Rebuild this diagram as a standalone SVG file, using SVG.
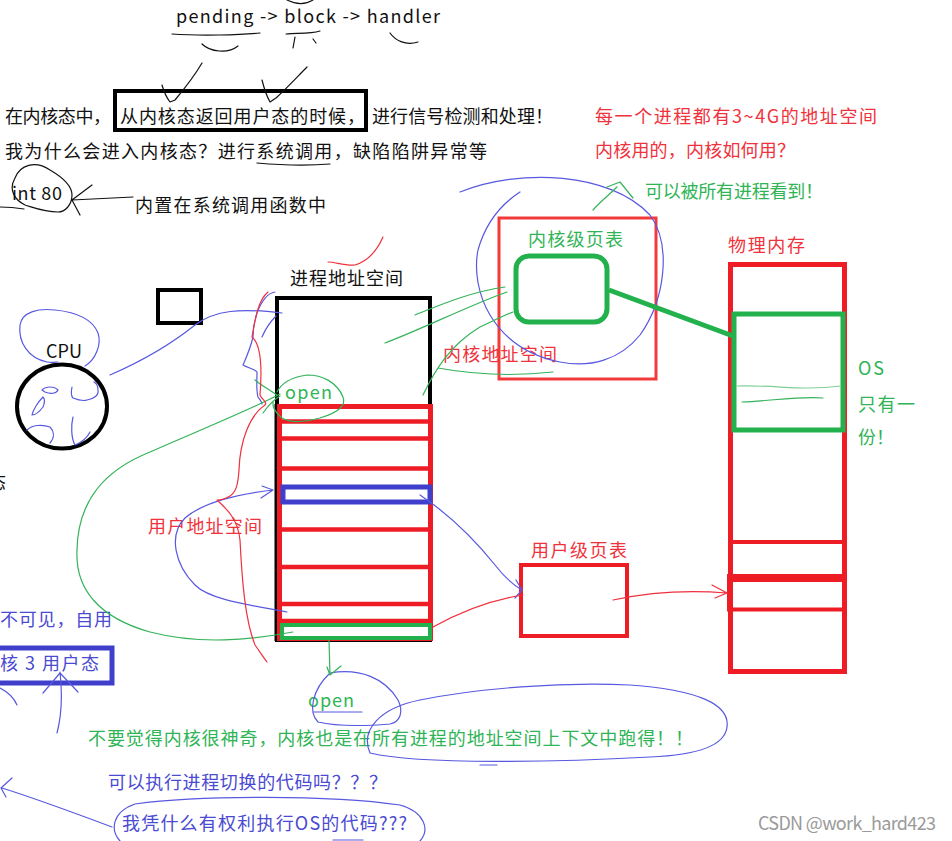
<svg xmlns="http://www.w3.org/2000/svg" width="952" height="841" viewBox="0 0 952 841">
<style>
text{font-family:"Noto Sans CJK SC","Noto Sans",sans-serif;font-size:18px}
.k{fill:#111}
.r{fill:#f0323c}
.g{fill:#2fb456}
.b{fill:#4a4ad2}
.sk{fill:none;stroke-width:1.2;stroke-linecap:round;stroke-linejoin:round}
.sb{stroke:#5858e0}
.sg{stroke:#34b35a}
.sr{stroke:#f0303c}
.sx{stroke:#111}
.tk{fill:none;stroke:#000;stroke-width:4}
.tr{fill:none;stroke:#ee1c25;stroke-width:5}
.tg{fill:none;stroke:#22b14c;stroke-width:5}
.tb{fill:none;stroke:#3f3fcc;stroke-width:5}
</style>
<rect width="952" height="841" fill="#fff"/>

<g id="notes-top">
<text class="k" x="176" y="23" font-size="19" textLength="264" lengthAdjust="spacing">pending -&gt; block -&gt; handler</text>
<text class="k" x="5" y="123" textLength="106" lengthAdjust="spacing">在内核态中，</text>
<text class="k" x="372" y="123" textLength="181" lengthAdjust="spacing">进行信号检测和处理！</text>
<text class="k" x="5" y="158" textLength="482" lengthAdjust="spacing">我为什么会进入内核态？进行系统调用，缺陷陷阱异常等</text>
<text class="k" x="135" y="212" textLength="191" lengthAdjust="spacing">内置在系统调用函数中</text>
<text class="r" x="595" y="123" textLength="282" lengthAdjust="spacing">每一个进程都有3~4G的地址空间</text>
<text class="r" x="595" y="157" textLength="200" lengthAdjust="spacing">内核用的，内核如何用？</text>
<text class="g" x="645" y="198" textLength="178" lengthAdjust="spacing">可以被所有进程看到！</text>
<text class="k" x="-12" y="489">态</text>
</g>

<g id="return-box">
<rect class="tk" x="115" y="91" width="251" height="39"/>
<text class="k" x="120" y="123" textLength="245" lengthAdjust="spacing">从内核态返回用户态的时候，</text>
</g>

<g id="int80">
<text class="k" x="12" y="200" textLength="50" lengthAdjust="spacing">int 80</text>
</g>

<g id="small-box"><rect class="tk" x="158" y="290" width="43" height="33"/></g>

<g id="cpu">
<ellipse class="tk" cx="62" cy="406.5" rx="45" ry="42"/>
<text class="k" x="46" y="358" textLength="36" lengthAdjust="spacing">CPU</text>
<path class="sk sb" d="M42,390 C46,386 54,386 58,390 C56,394 50,394 45,392 Z M43,397 C38,402 33,410 32,415 C36,415 40,411 43,407 C45,402 45,399 43,397 M72,387 C71,392 71,396 73,398 C78,400 84,401 87,400 C94,399 99,395 98,390 C98,386 96,383 94,382 M27,430 C32,425 42,424 50,427 C54,431 55,437 50,443 M73,417 C71,425 71,438 75,445 C80,443 86,440 90,432"/>
</g>

<g id="process-space">
<text class="k" x="290" y="285" textLength="113" lengthAdjust="spacing">进程地址空间</text>
<rect class="tk" x="277" y="298" width="153" height="342"/>
<rect class="tr" x="279.5" y="406.5" width="151" height="232"/>
<g stroke="#ee1c25" stroke-width="4.5">
<line x1="279" y1="421.5" x2="431" y2="421.5"/>
<line x1="279" y1="438.5" x2="431" y2="438.5"/>
<line x1="279" y1="468.5" x2="431" y2="468.5"/>
<line x1="279" y1="529.5" x2="431" y2="529.5"/>
<line x1="279" y1="567" x2="431" y2="567"/>
<line x1="279" y1="604" x2="431" y2="604"/>
<line x1="279" y1="621" x2="431" y2="621"/>
</g>
<line x1="275.5" y1="404" x2="275.5" y2="641" stroke="#000" stroke-width="2"/>
<rect class="tb" x="283" y="487" width="147" height="15"/>
<rect fill="none" stroke="#22b14c" stroke-width="4" x="282" y="625" width="148" height="13"/>
<text class="g" x="285" y="399" textLength="47" lengthAdjust="spacing">open</text>
<text class="r" x="148" y="533" textLength="114" lengthAdjust="spacing">用户地址空间</text>
</g>

<g id="kernel-page-table">
<rect fill="none" stroke="#f33a3a" stroke-width="3" x="499" y="218" width="157" height="161"/>
<text class="g" x="528" y="246" textLength="95" lengthAdjust="spacing">内核级页表</text>
<rect class="tg" x="516" y="256" width="91" height="66" rx="13"/>
<text class="r" x="443" y="361" textLength="114" lengthAdjust="spacing">内核地址空间</text>
</g>

<g id="physical-memory">
<text class="r" x="728" y="252" textLength="77" lengthAdjust="spacing">物理内存</text>
<rect class="tr" x="730.5" y="264.5" width="114" height="407"/>
<line x1="730" y1="542" x2="845" y2="542" stroke="#ee1c25" stroke-width="4"/>
<rect x="727" y="574" width="118" height="8" fill="#ee1c25"/>
<line x1="727" y1="609.5" x2="845" y2="609.5" stroke="#ee1c25" stroke-width="4"/>
<line x1="729" y1="578" x2="729" y2="611" stroke="#ee1c25" stroke-width="4"/>
<rect class="tg" x="734" y="314" width="109" height="116"/>
<path class="sk" stroke="#7fcf95" d="M737,386 C780,385 800,391 841,386"/>
<path class="sk sg" d="M742,402 C770,401 800,396 823,398"/>
<text class="g" x="858" y="375" textLength="26" lengthAdjust="spacing">OS</text>
<text class="g" x="858" y="411" textLength="57" lengthAdjust="spacing">只有一</text>
<text class="g" x="858" y="444">份！</text>
</g>

<g id="user-page-table">
<text class="r" x="531" y="557" textLength="96" lengthAdjust="spacing">用户级页表</text>
<rect fill="none" stroke="#ee1c25" stroke-width="4" x="521" y="565" width="106" height="71"/>
</g>

<g id="user-mode-box">
<text class="b" x="0" y="626" textLength="112" lengthAdjust="spacing">不可见，自用</text>
<rect class="tb" x="-5" y="648" width="117" height="35"/>
<text class="b" x="0" y="670" textLength="99" lengthAdjust="spacing">核 3 用户态</text>
</g>

<g id="notes-bottom">
<text class="g" x="308" y="707" textLength="46" lengthAdjust="spacing">open</text>
<text class="g" x="88" y="745" textLength="605" lengthAdjust="spacing">不要觉得内核很神奇，内核也是在所有进程的地址空间上下文中跑得！！</text>
<text class="b" x="108" y="789" textLength="279" lengthAdjust="spacing">可以执行进程切换的代码吗？？？</text>
<text class="b" x="122" y="830" textLength="285" lengthAdjust="spacing">我凭什么有权利执行OS的代码???</text>
<text x="758" y="830" font-size="16" fill="#9a9a9a" textLength="178" lengthAdjust="spacing">CSDN @work_hard423</text>
</g>

<g id="connectors">
<path class="sk sx" d="M172,34 C200,36 240,35 260,33 M202,44 C210,52 228,54 238,46 M286,34 C298,33 310,34 320,31 M295,37 L293,48 M313,39 L316,43 M390,33 C395,40 405,46 418,42 M287,0 C295,4 305,5 313,0"/>
<path class="sk sx" d="M162,85 C164,92 166,97 170,102 L175,100 C185,88 195,75 202,63 M262,80 C264,88 266,95 270,102 L276,98 C287,88 298,76 307,67"/>
<path class="sk sx" d="M257,163 C280,165 305,166 330,164"/>
<path class="sk sx" d="M15,178 C20,165 35,160 50,170 C62,177 72,185 72,195 C72,205 65,212 58,212 C45,212 35,208 25,205 C15,200 8,190 15,178 M0,207 C10,207 18,208 24,209 M133,197 C110,198 90,199 72,200 M92,185 L72,200 L80,215"/>
<path class="sk sb" d="M85,366 C95,360 102,345 98,333 C92,318 75,312 55,310 C38,308 22,312 20,325 C18,342 28,358 47,362 C52,363 56,362 58,362"/>
<path class="sk sb" d="M110,375 C140,362 170,345 195,325 C215,310 240,308 282,313"/>
<path class="sk sb" d="M275,292 C268,293 262,300 257,313 C253,325 253,332 253,337 C250,350 245,360 243,365 C248,368 255,369 257,372 C257,380 256,390 258,397 C260,400 262,402 262,404 M276,316 C270,322 265,330 262,337"/>
<path class="sk sb" d="M460,192 C520,168 610,172 650,215 C672,245 665,300 640,335 C620,360 590,368 560,362 C530,356 505,340 490,315 C478,295 474,270 478,250 C485,225 500,205 520,192"/>
<path class="sk sb" d="M287,612 C250,605 210,600 195,585 C175,565 168,535 185,518 C200,505 230,495 273,490 M262,486 L273,490 L261,498"/>
<path class="sk sb" d="M420,495 C450,515 475,540 495,565 C505,578 515,586 522,590 M516,580 L522,590 L515,598"/>
<path class="sk sb" d="M330,673 C360,668 385,678 398,700 C404,712 400,722 390,724 C365,726 335,726 318,722 C308,712 312,690 330,673 M313,712 L362,712"/>
<path class="sk sb" d="M370,753 C360,730 380,708 420,700 C480,688 560,682 630,685 C700,690 730,705 727,727 C725,745 700,755 650,757 C560,762 420,765 370,753 M480,765 L497,765"/>
<path class="sk sb" d="M120,841 C110,830 112,812 135,804 C200,795 330,795 400,805 C425,812 430,830 420,841 M333,840 L363,840"/>
<path class="sk sb" d="M112,827 C80,815 40,800 2,788 M12,778 L1,788 L6,797"/>
<path class="sk sb" d="M60,672 C62,690 63,710 57,733 M43,693 L60,673 L78,692 M0,688 C8,692 14,698 17,705"/>
<path class="sk sg" d="M593,210 C600,202 610,194 617,187 M607,187 L620,182 L633,198"/>
<path class="sk sg" d="M415,315 C440,305 470,292 505,287 M385,343 C420,330 470,305 507,292 M423,395 C435,370 450,345 480,327 C495,320 505,315 513,312 M438,368 C460,372 500,378 553,372"/>
<path class="sk sg" d="M277,392 C282,382 293,377 307,375 C322,375 337,382 343,397 C346,405 340,412 320,418 C305,422 290,423 282,418 C276,413 272,408 273,402 M255,380 C262,386 270,390 277,395 M263,413 C268,406 273,400 280,396"/>
<path class="sk sg" d="M293,632 C250,640 200,645 150,632 C100,618 75,590 77,550 C78,500 105,470 150,452 C200,430 250,410 280,394"/>
<path class="sk sg" d="M329,640 L330,675 M327,667 L330,675 L341,666"/>
<path stroke="#22b14c" stroke-width="5" d="M609,290 L733,336"/>
<path class="sk sr" d="M383,237 C375,255 365,262 355,265 C345,266 335,262 328,262"/>
<path class="sk sr" d="M268,292 C258,300 255,320 252,337 C262,345 262,370 260,395 C262,400 268,402 265,405 C250,415 240,440 239,470 C238,485 236,492 230,496 C225,499 220,500 217,500 C228,510 238,520 240,540 C242,580 245,620 255,645 C260,652 264,658 267,662"/>
<path class="sk sr" d="M433,627 C460,612 490,600 523,595"/>
<path class="sk sr" d="M613,600 C650,592 690,590 727,593 M712,585 L727,593 L715,598"/>
</g>
</svg>
